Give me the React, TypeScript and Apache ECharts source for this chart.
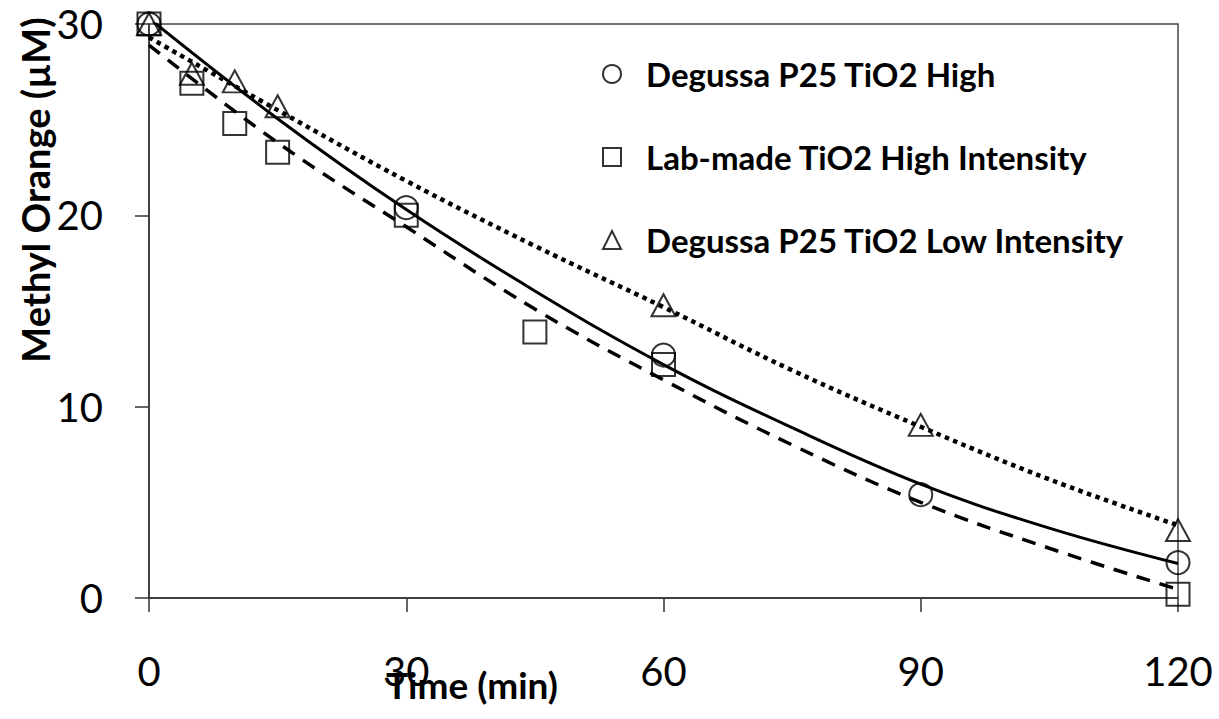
import React, { useEffect, useRef } from "react";
import * as echarts from "echarts";

// Measured points
const degussaHigh: [number, number][] = [
  [0, 30], [30, 20.4], [60, 12.7], [90, 5.4], [120, 1.85],
];
const labMadeHigh: [number, number][] = [
  [0, 30], [5, 26.9], [10, 24.8], [15, 23.3], [30, 20.0], [45, 13.9], [60, 12.2], [120, 0.2],
];
const degussaLow: [number, number][] = [
  [0, 30], [5, 27.4], [10, 27.0], [15, 25.7], [60, 15.3], [90, 9.05], [120, 3.55],
];

// Trend lines
const trendX = [0, 15, 30, 45, 60, 75, 90, 105, 120];
const trendDegussaHigh = [30.3, 25.05, 20.3, 16.05, 12.2, 8.9, 5.95, 3.65, 1.8];
const trendLabMade = [28.9, 23.8, 19.4, 15.1, 11.4, 8.0, 5.0, 2.6, 0.45];
const trendDegussaLow = [29.3, 25.5, 21.8, 18.4, 15.2, 11.9, 8.95, 6.2, 3.8];

const xTicks = [0, 30, 60, 90, 120];
const yTicks = [0, 10, 20, 30];

const names = [
  "Degussa P25 TiO2 High",
  "Lab-made TiO2 High Intensity",
  "Degussa P25 TiO2 Low Intensity",
];

const FONT = "Lato, 'Open Sans', sans-serif";

export default function App() {
  const ref = useRef<HTMLDivElement>(null);
  useEffect(() => {
    if (!ref.current) return;
    const chart = echarts.init(ref.current, null, { renderer: "svg" });
    const zip = (ys: number[]) => trendX.map((x, i) => [x, ys[i]]);
    const markerStyle = { color: "rgba(255,255,255,0)", borderColor: "#000", borderWidth: 2 };
    chart.setOption({
      animation: false,
      backgroundColor: "#fff",
      grid: {
        left: 149, right: 41, top: 24, bottom: 121,
        show: true, borderColor: "#444", borderWidth: 1.5, backgroundColor: "transparent",
      },
      legend: {
        orient: "vertical",
        left: 597,
        top: 51,
        itemGap: 47,
        itemWidth: 18,
        itemHeight: 18,
        data: [
          { name: names[0], icon: "circle" },
          { name: names[1], icon: "rect" },
          { name: names[2], icon: "triangle" },
        ],
        textStyle: {
          fontFamily: FONT, fontWeight: "bold", fontSize: 33, lineHeight: 36, color: "#000",
          padding: [0, 0, 0, 20],
        },
      },
      xAxis: {
        type: "value", min: 0, max: 120, interval: 30,
        axisLine: { show: true, lineStyle: { color: "#333", width: 1.5 } },
        axisTick: { show: true, length: 14, lineStyle: { color: "#333", width: 1.5 } },
        splitLine: { show: false },
        axisLabel: {
          margin: 53, fontFamily: FONT, fontSize: 40, color: "#000",
          formatter: (v: number) => (xTicks.includes(v) ? String(v) : ""),
        },
      },
      yAxis: {
        type: "value", min: 0, max: 30, interval: 10,
        axisLine: { show: true, lineStyle: { color: "#333", width: 1.5 } },
        axisTick: { show: true, length: 14, lineStyle: { color: "#333", width: 1.5 } },
        splitLine: { show: false },
        axisLabel: {
          margin: 46, fontFamily: FONT, fontSize: 40, color: "#000",
          formatter: (v: number) => (yTicks.includes(v) ? String(v) : ""),
        },
      },
      graphic: [
        {
          type: "text", x: 35, y: 190, rotation: Math.PI / 2,
          style: {
            text: "Methyl Orange (µM)", fontFamily: FONT, fontWeight: "bold", fontSize: 38, fill: "#000",
            align: "center", verticalAlign: "middle",
          },
        },
        {
          type: "text", x: 472, y: 684,
          style: {
            text: "Time (min)", fontFamily: FONT, fontWeight: "bold", fontSize: 37, fill: "#000",
            align: "center", verticalAlign: "middle",
          },
        },
      ],
      series: [
        {
          type: "line", data: zip(trendDegussaHigh), smooth: 0.4, showSymbol: false, silent: true,
          lineStyle: { color: "#000", width: 3, type: "solid" }, z: 2,
        },
        {
          type: "line", data: zip(trendLabMade), smooth: 0.4, showSymbol: false, silent: true,
          lineStyle: { color: "#000", width: 3.5, type: [14, 10], cap: "butt" }, z: 2,
        },
        {
          type: "line", data: zip(trendDegussaLow), smooth: 0.4, showSymbol: false, silent: true,
          lineStyle: { color: "#000", width: 4.5, type: [4.5, 4.5], cap: "butt" }, z: 2,
        },
        {
          name: names[0], type: "scatter", data: degussaHigh, symbol: "circle", symbolSize: 23,
          itemStyle: markerStyle, z: 3,
        },
        {
          name: names[1], type: "scatter", data: labMadeHigh, symbol: "rect", symbolSize: 23,
          itemStyle: markerStyle, z: 3,
        },
        {
          name: names[2], type: "scatter", data: degussaLow, symbol: "triangle", symbolSize: [24, 22],
          itemStyle: markerStyle, z: 3,
        },
      ],
    });
    return () => chart.dispose();
  }, []);
  return <div ref={ref} style={{ width: 1219, height: 719, position: "absolute", left: 0, top: 0 }} />;
}
